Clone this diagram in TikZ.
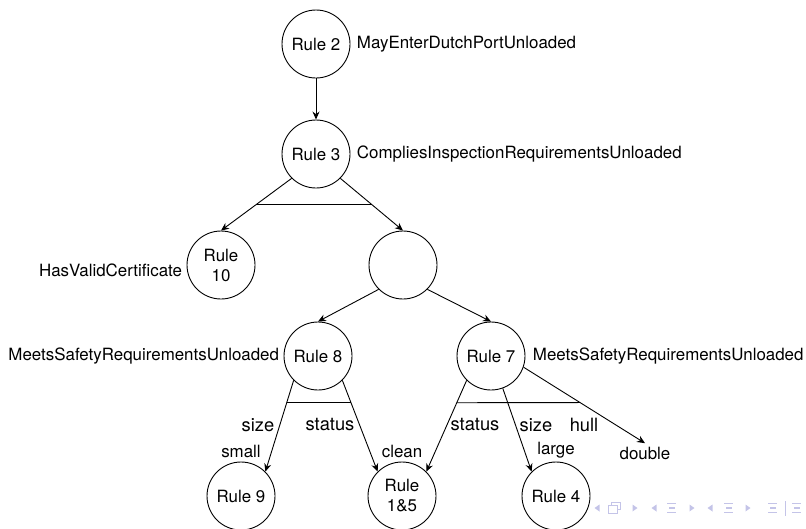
\documentclass[tikz,border=0pt]{standalone}
\usepackage{fontspec}
\setmainfont{TeX Gyre Heros}
\usetikzlibrary{positioning,calc,arrows.meta}
\definecolor{navColor}{RGB}{196,196,232}

\begin{document}
\begin{tikzpicture}
[x=1pt,y=-1pt,
  ruleDecorate/.style={shape=circle,draw,line width=0.9pt,minimum size=68pt,inner sep=0pt,align=center},%
  lineDecorate/.style={-,line width=0.9pt},%
  arrowDecorate/.style={-{Stealth[length=8pt,width=7pt]},line width=0.9pt},%
  edgeLabel/.style={font=\fontsize{18.3}{22}\selectfont},%
  navDecorate/.style={fill=navColor},%
  font=\fontsize{16.9}{20}\selectfont]
\useasboundingbox (0,0) rectangle (806,528);
%% rules as vertices
\foreach \nodename/\x/\y/\txt in {
  rule2/316/44/Rule 2, rule3/316/154/Rule 3, rule10/221/265/{Rule\\10},
  conj/403/265/{}, rule8/318/356/Rule 8, rule7/491/356/Rule 7,
  rule9/241/496/Rule 9, rule15/402/496/{Rule\\1\&5}, rule4/556/496/Rule 4}
{
  \node (\nodename) at (\x,\y) [ruleDecorate] {\txt};
}
\node (double) at (645,453) {double};
%% predicate names
\node (n2) [right=3pt of rule2] {MayEnterDutchPortUnloaded};
\node (n3) [right=3pt of rule3] {CompliesInspectionRequirementsUnloaded};
\node (n10) [left=1pt of rule10,yshift=-5pt] {HasValidCertificate};
\node (n8) [left=1pt of rule8] {MeetsSafetyRequirementsUnloaded};
\node (n7) [right=4pt of rule7] {MeetsSafetyRequirementsUnloaded};
%% values above the children
\node (small) [above=0pt of rule9] {small};
\node (clean) [above=0pt of rule15] {clean};
\node (large) [above=0pt of rule4] {large};
%% attribute labels
\foreach \nodename/\x/\y/\txt in {
  sizeA/258/425/size, statusA/330/425/status, statusB/475/425/status,
  sizeB/536/425/size, hullB/584/425/hull}
{
  \node (\nodename) at (\x,\y) [edgeLabel] {\txt};
}
%% edges or lines
\path
\foreach \startnode/\endnode in {rule2.south/rule3.north,
  rule3.south west/rule10.north, rule3.south east/conj.north,
  conj.south west/rule8.north, conj.south east/rule7.north,
  rule8.south west/rule9.north east, rule8.south east/rule15.north west,
  rule7.south west/rule15.north east, rule7.-70/rule4.north west,
  rule7.-19/double.north}
{
  (\startnode) edge[arrowDecorate] (\endnode)
};
%% conjunction bars
\draw[lineDecorate] ($(rule3.south west)!.5!(rule10.north)$) -- ($(rule3.south east)!.5!(conj.north)$);
\draw[lineDecorate] ($(rule8.south west)!.24!(rule9.north east)$) -- ($(rule8.south east)!.24!(rule15.north west)$);
\draw[lineDecorate] ($(rule7.south west)!.245!(rule15.north east)$) -- ($(rule7.-19)!.465!(double.north)$);
%% navigation symbols
\foreach \x in {635,692,748}
  \fill[navDecorate] (\x-2.5,504.5) -- (\x+2.5,508) -- (\x-2.5,511.5) -- cycle;
\foreach \x in {597,654,710}
  \fill[navDecorate] (\x+2.5,504.5) -- (\x-2.5,508) -- (\x+2.5,511.5) -- cycle;
\foreach \x in {672,729,773,797}
  \draw[navColor,line width=1.3pt] (\x-5,503.5) -- (\x+4,503.5) (\x-3,508) -- (\x+3,508) (\x-5,512.5) -- (\x+4,512.5);
\draw[navColor,line width=1pt,fill=white] (611,502) rectangle (620,509);
\draw[navColor,line width=1pt,fill=white] (608,505) rectangle (617,513);
\draw[navColor,line width=1pt] (785,501) -- (785,516);
\end{tikzpicture}
\end{document}
